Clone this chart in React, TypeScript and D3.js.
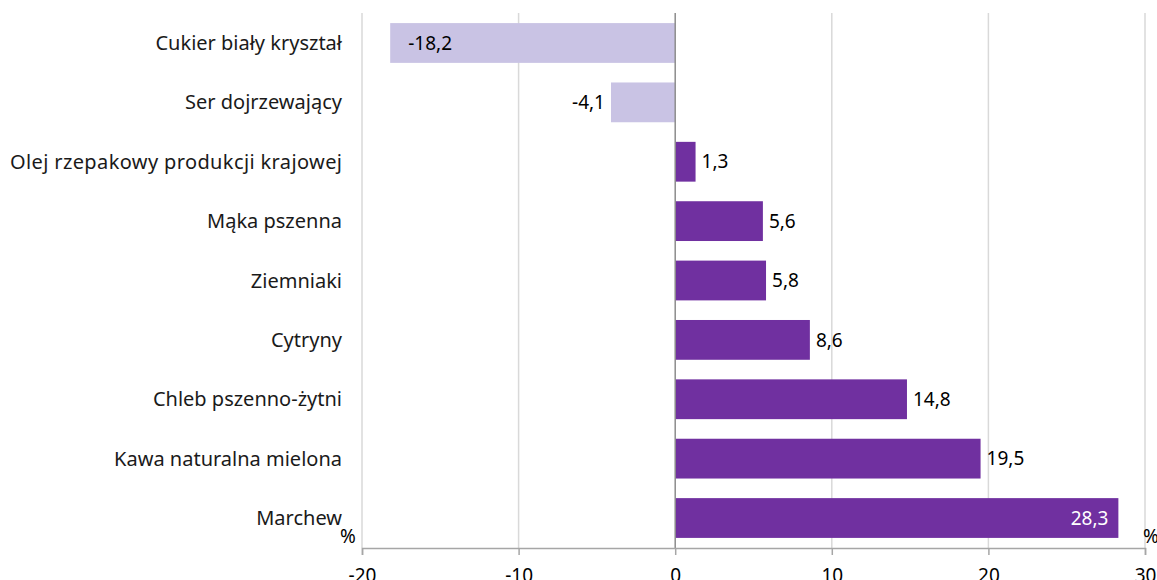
import React, { useEffect, useRef } from 'react';
import * as d3 from 'd3';

// Data
const categories = [
  'Cukier biały kryształ',
  'Ser dojrzewający',
  'Olej rzepakowy produkcji krajowej',
  'Mąka pszenna',
  'Ziemniaki',
  'Cytryny',
  'Chleb pszenno-żytni',
  'Kawa naturalna mielona',
  'Marchew',
];
const values = [-18.2, -4.1, 1.3, 5.6, 5.8, 8.6, 14.8, 19.5, 28.3];
const xTicks = [-20, -10, 0, 10, 20, 30];

const width = 1157;
const height = 580;
const font = "'Noto Sans', sans-serif";

const App = () => {
  const ref = useRef<SVGSVGElement>(null);

  useEffect(() => {
    document.body.style.margin = '0';
    const svg = d3.select(ref.current);
    svg.selectAll('*').remove();

    const x = d3.scaleLinear().domain([-20, 30]).range([362, 1145]);
    const y = d3.scaleBand<string>()
      .domain(categories)
      .range([13, 548])
      .paddingInner(0.33)
      .paddingOuter(0.17);

    const fmt = (v: number) => d3.format('.1f')(v).replace('.', ',').replace('−', '-');

    // grid lines
    svg.append('g')
      .selectAll('line')
      .data(xTicks.filter(t => t !== 0))
      .enter()
      .append('line')
      .attr('x1', d => x(d))
      .attr('x2', d => x(d))
      .attr('y1', 13)
      .attr('y2', 548)
      .attr('stroke', '#d9d9d9')
      .attr('stroke-width', 1.5);

    // bars
    svg.append('g')
      .selectAll('rect')
      .data(values)
      .enter()
      .append('rect')
      .attr('x', d => x(Math.min(0, d)))
      .attr('width', d => Math.abs(x(d) - x(0)))
      .attr('y', (d, i) => y(categories[i])!)
      .attr('height', y.bandwidth())
      .attr('fill', d => (d < 0 ? '#c9c3e4' : '#7030a0'));

    // zero line
    svg.append('line')
      .attr('x1', x(0))
      .attr('x2', x(0))
      .attr('y1', 13)
      .attr('y2', 548)
      .attr('stroke', '#8c8c8c')
      .attr('stroke-width', 1.5);

    // x axis
    const axis = svg.append('g')
      .attr('transform', 'translate(0,548)')
      .call(d3.axisBottom(x).tickValues(xTicks).tickSize(7).tickPadding(10).tickFormat(d => String(d).replace('−', '-')));
    axis.select('.domain').attr('stroke', '#a6a6a6').attr('stroke-width', 1.5);
    axis.selectAll('.tick line').attr('stroke', '#a6a6a6').attr('stroke-width', 1.5);
    axis.selectAll('.tick text')
      .attr('font-family', font)
      .attr('font-size', 19)
      .attr('fill', '#000')
      .attr('dy', '0.9em');

    // category labels
    svg.append('g')
      .selectAll('text')
      .data(categories)
      .enter()
      .append('text')
      .attr('x', 342)
      .attr('y', d => y(d)! + y.bandwidth() / 2)
      .attr('dy', '0.35em')
      .attr('text-anchor', 'end')
      .attr('font-family', font)
      .attr('font-size', 20)
      .attr('textLength', d => (d.startsWith('Olej') ? 332 : null))
      .attr('fill', '#1a1a1a')
      .text(d => d);

    // value labels
    svg.append('g')
      .selectAll('text')
      .data(values)
      .enter()
      .append('text')
      .attr('x', (d, i) => {
        if (i === 0) return x(d) + 18;
        if (d < 0) return x(d) - 6;
        if (i === values.length - 1) return x(d) - 10;
        return x(d) + 6;
      })
      .attr('y', (d, i) => y(categories[i])! + y.bandwidth() / 2)
      .attr('dy', '0.35em')
      .attr('text-anchor', (d, i) => {
        if (i === 0) return 'start';
        if (d < 0) return 'end';
        if (i === values.length - 1) return 'end';
        return 'start';
      })
      .attr('font-family', font)
      .attr('font-size', 19)
      .attr('fill', (d, i) => (i === values.length - 1 ? '#fff' : '#000'))
      .text(d => fmt(d));

    // unit labels
    svg.append('text')
      .attr('x', 348).attr('y', 543)
      .attr('text-anchor', 'middle')
      .attr('font-family', font).attr('font-size', 19)
      .text('%');
    svg.append('text')
      .attr('x', 1151).attr('y', 543)
      .attr('text-anchor', 'middle')
      .attr('font-family', font).attr('font-size', 19)
      .text('%');
  }, []);

  return <svg ref={ref} width={width} height={height} style={{ display: 'block' }} />;
};

export default App;
